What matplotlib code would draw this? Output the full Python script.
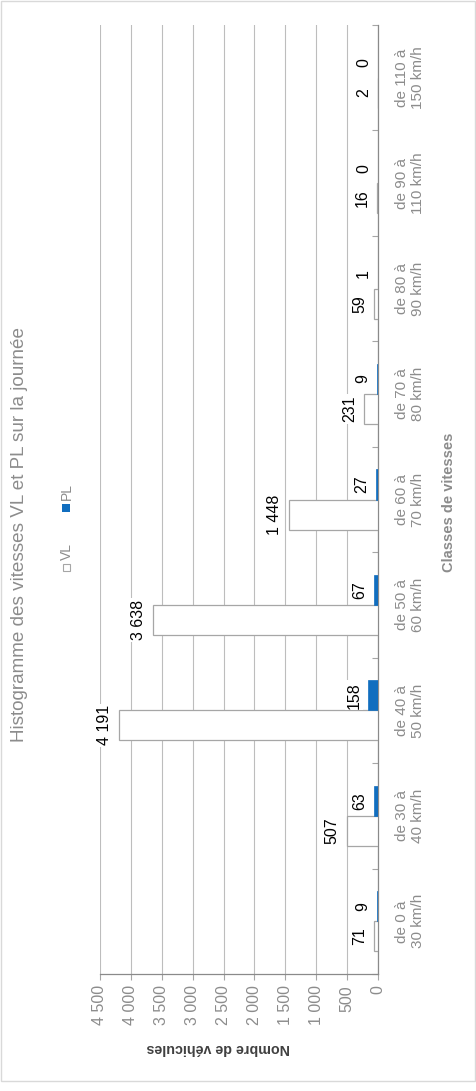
import matplotlib
matplotlib.use("Agg")
import matplotlib.pyplot as plt
from matplotlib.patches import Rectangle

plt.rcParams["font.family"] = ["Liberation Sans", "DejaVu Sans"]

W, H = 477, 1091

CLASSES = ["de 0 à\n30 km/h", "de 30 à\n40 km/h", "de 40 à\n50 km/h",
           "de 50 à\n60 km/h", "de 60 à\n70 km/h", "de 70 à\n80 km/h",
           "de 80 à\n90 km/h", "de 90 à\n110 km/h", "de 110 à\n150 km/h"]
VL = [71, 507, 4191, 3638, 1448, 231, 59, 16, 2]
PL = [9, 63, 158, 67, 27, 9, 1, 0, 0]
TICKS = [0, 500, 1000, 1500, 2000, 2500, 3000, 3500, 4000, 4500]

TITLE = "Histogramme des vitesses VL et PL sur la journée"
GREY = "#8c8c8c"
BLUE = "#116ebf"


def fx(px):
    return px / W


def fy(py):
    return 1 - py / H


def fmt(v):
    return f"{v:,}".replace(",", " ")


fig = plt.figure(figsize=(W / 100, H / 100), dpi=100)
ax = fig.add_axes([fx(100), fy(974), fx(378) - fx(100), fy(25) - fy(974)])

pos = list(range(len(CLASSES)))
bw = 0.285
vl_bars = ax.barh([p - bw / 2 for p in pos], VL, height=bw, color="white",
                  edgecolor="#a6a6a6", linewidth=0.9, zorder=3)
pl_bars = ax.barh([p + bw / 2 for p in pos], PL, height=bw, color=BLUE,
                  edgecolor=BLUE, linewidth=0.5, zorder=3)

for bars, vals in ((vl_bars, VL), (pl_bars, PL)):
    for b, v in zip(bars, vals):
        ax.annotate(fmt(v), (v, b.get_y() + b.get_height() / 2),
                    xytext=(-5, 0), textcoords="offset points",
                    rotation=90, ha="right", va="center", fontsize=11.5,
                    color="black", zorder=4,
                    bbox=dict(boxstyle="square,pad=0.1", fc="white", ec="none"))

ax.set_xlim(4500, 0)
ax.set_ylim(-0.5, len(CLASSES) - 0.5)

ax.set_xticks(TICKS)
ax.set_xticklabels([fmt(t) for t in TICKS], rotation=90, fontsize=11.5, color=GREY)
ax.tick_params(axis="x", length=4, width=0.8, color="#a6a6a6", pad=4)
ax.xaxis.grid(True, color="#bdbdbd", linewidth=0.8, zorder=0)
ax.set_axisbelow(True)

ax.yaxis.tick_right()
ax.set_yticks(pos)
ax.set_yticklabels(CLASSES, rotation=90, fontsize=11, color=GREY,
                   va="center", ha="left", multialignment="center")
ax.tick_params(axis="y", which="major", length=0, pad=12)
ax.set_yticks([p - 0.5 for p in pos] + [len(CLASSES) - 0.5], minor=True)
ax.tick_params(axis="y", which="minor", direction="in", length=4,
               width=0.8, color="#a6a6a6", right=True, left=False)

for s in ("left", "top"):
    ax.spines[s].set_visible(False)
for s in ("right", "bottom"):
    ax.spines[s].set_color("#8a8a8a")
    ax.spines[s].set_linewidth(0.9)

fig.text(fx(20), fy(535), TITLE, rotation=90, ha="center", va="center",
         fontsize=13.6, color=GREY)
fig.text(fx(449), fy(502), "Classes de vitesses", rotation=90, ha="center",
         va="center", fontsize=10.5, fontweight="bold", color=GREY)
fig.text(fx(218), fy(1048), "Nombre de véhicules", rotation=180, ha="center",
         va="center", fontsize=10.3, fontweight="bold", color="#404040")

# legend drawn by hand, rotated like the rest of the chart
fig.patches.append(Rectangle((fx(63), fy(571)), fx(7), 7 / H, transform=fig.transFigure,
                             fc="white", ec="#a6a6a6", lw=0.8))
fig.text(fx(67), fy(551), "VL", rotation=90, ha="center", va="center",
         fontsize=10, color=GREY)
fig.patches.append(Rectangle((fx(62), fy(512)), fx(8), 8 / H, transform=fig.transFigure,
                             fc=BLUE, ec="none"))
fig.text(fx(67), fy(491), "PL", rotation=90, ha="center", va="center",
         fontsize=10, color=GREY)

fig.patches.append(Rectangle((fx(1), fy(1081)), fx(474), 1080 / H,
                             transform=fig.transFigure, fill=False,
                             ec="#d9d9d9", lw=1))

fig.savefig("out.png", dpi=100)
